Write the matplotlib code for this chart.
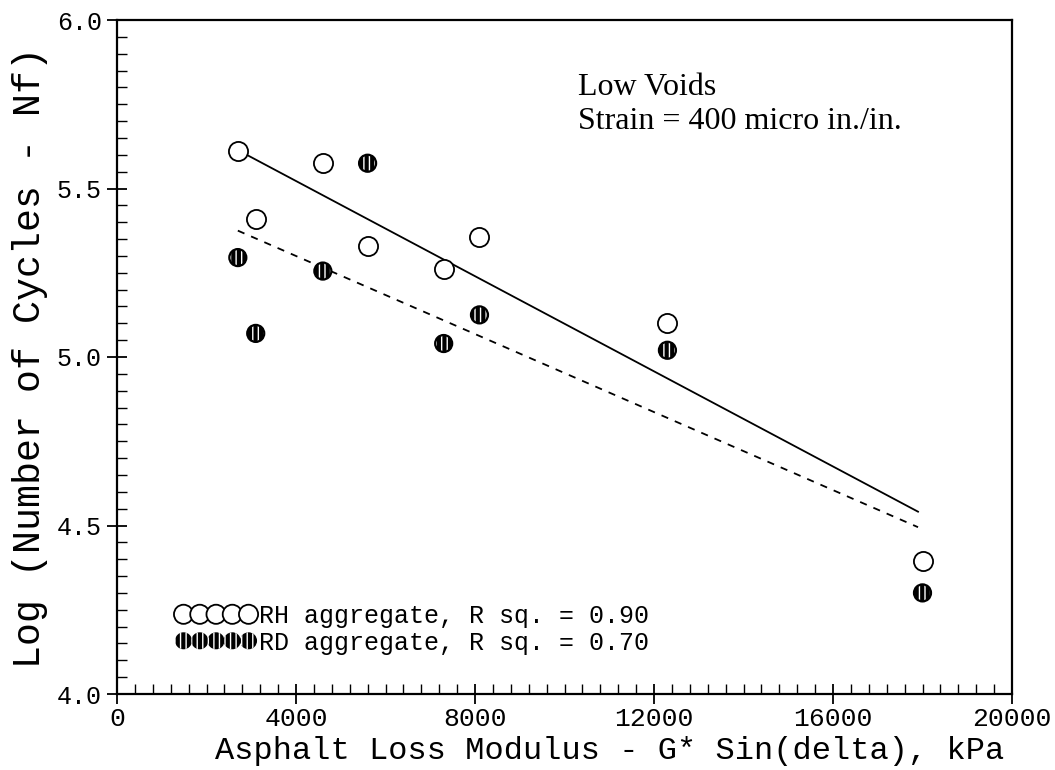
import numpy as np
import matplotlib
matplotlib.use('Agg')
import matplotlib.pyplot as plt
from matplotlib.ticker import MultipleLocator

# 값은 그림에서 읽음
modulus = [2700, 3100, 4600, 5600, 7300, 8100, 12300, 18000]
rh_logn = [5.61, 5.41, 5.575, 5.33, 5.26, 5.355, 5.10, 4.395]
rd_logn = [5.295, 5.07, 5.255, 5.575, 5.04, 5.125, 5.02, 4.30]

# 회귀선 양 끝점
fit_x = [2700, 17900]
rh_fit = [5.614, 4.541]
rd_fit = [5.375, 4.495]

rh_label = 'RH aggregate, R sq. = 0.90'
rd_label = 'RD aggregate, R sq. = 0.70'

mono = 'Liberation Mono'
plt.rcParams['hatch.color'] = 'white'
plt.rcParams['hatch.linewidth'] = 1.0

fig = plt.figure(figsize=(10.55, 7.7), dpi=100)
ax = fig.add_axes([117 / 1055, 1 - 694 / 770, 895 / 1055, 674 / 770])

ax.plot(fit_x, rh_fit, color='black', lw=1.3, ls='-')
ax.plot(fit_x, rd_fit, color='black', lw=1.3, ls=(0, (4, 4)))

ax.scatter(modulus, rh_logn, s=190, facecolors='white', edgecolors='black',
           linewidths=1.3, zorder=3, label=rh_label)
ax.scatter(modulus, rd_logn, s=150, facecolors='black', edgecolors='white',
           hatch='|||', linewidths=0, zorder=3, label=rd_label)
ax.scatter(modulus, rd_logn, s=150, facecolors='none', edgecolors='black',
           linewidths=1.6, zorder=4)

ax.set_xlim(0, 20000)
ax.set_ylim(4.0, 6.0)
ax.xaxis.set_major_locator(MultipleLocator(4000))
ax.xaxis.set_minor_locator(MultipleLocator(400))
ax.yaxis.set_major_locator(MultipleLocator(0.5))
ax.yaxis.set_minor_locator(MultipleLocator(0.05))
ax.set_yticklabels(['%.1f' % v for v in ax.get_yticks()])

ax.tick_params(which='major', direction='inout', length=14, width=1.3,
               top=False, right=False)
ax.tick_params(which='minor', direction='in', length=7, width=1.0,
               top=False, right=False)
ax.tick_params(axis='x', labelsize=19, pad=2)
ax.tick_params(axis='y', labelsize=18, pad=4)
for lab in ax.get_xticklabels() + ax.get_yticklabels():
    lab.set_family(mono)
for sp in ax.spines.values():
    sp.set_linewidth(1.6)

ax.set_xlabel('Asphalt Loss Modulus - G* Sin(delta), kPa', family=mono,
              fontsize=23, labelpad=2)
ax.xaxis.set_label_coords(0.55, -0.062)
ax.set_ylabel('Log (Number of Cycles - Nf)', family=mono, fontsize=27.5,
              labelpad=6)

ax.text(0.515, 0.921, 'Low Voids\nStrain = 400 micro in./in.',
        transform=ax.transAxes, family='Liberation Serif', fontsize=23,
        va='top', ha='left', linespacing=1.2)

leg = ax.legend(loc='lower left', bbox_to_anchor=(0.052, 0.04),
                scatterpoints=5, scatteryoffsets=[0.5], frameon=False,
                handlelength=3.2, handletextpad=0.1, labelspacing=0.1,
                borderpad=0, prop={'family': mono, 'size': 18})

plt.savefig('out.png', dpi=100)
